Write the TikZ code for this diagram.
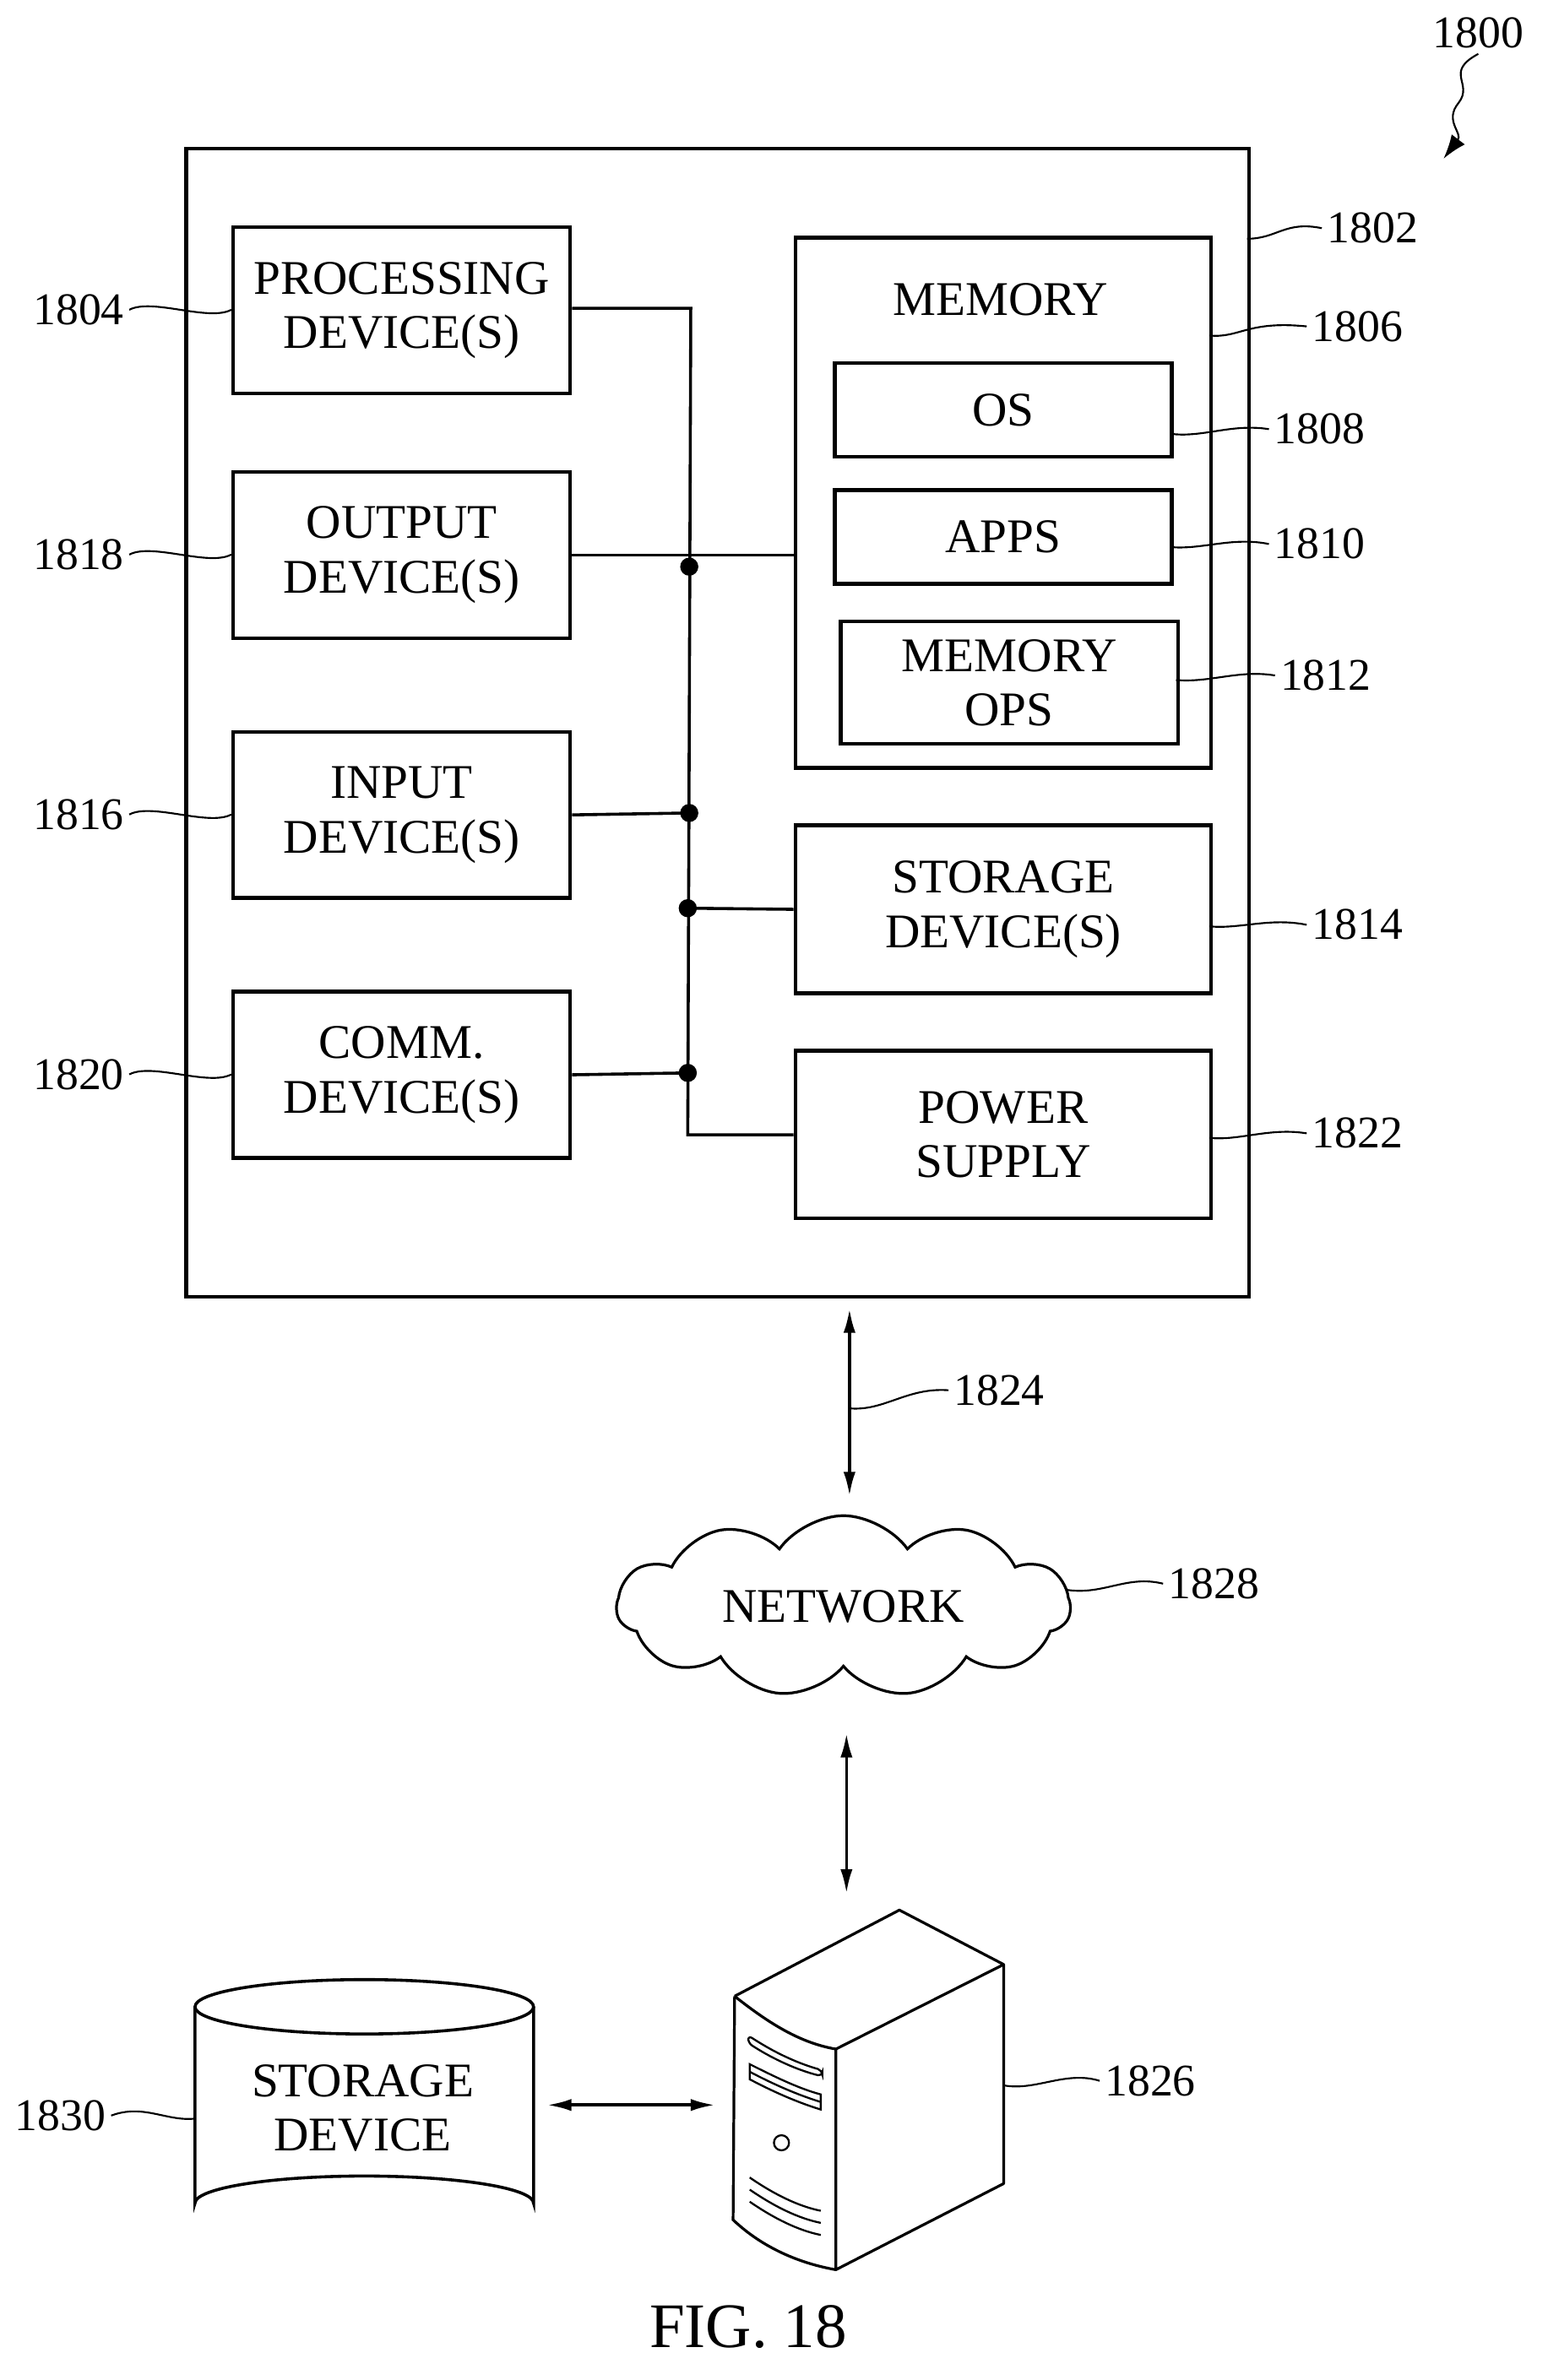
\documentclass[tikz,border=0pt]{standalone}
\usepackage{fontspec}
\setmainfont{Liberation Serif}
\usetikzlibrary{shapes.symbols,shapes.geometric,arrows.meta}
\begin{document}
\begin{tikzpicture}[x=1pt,y=-1pt,
  box/.style={draw,line width=2.5pt,inner sep=0pt,align=center,font=\fontsize{32}{36}\selectfont},
  lab/.style={font=\fontsize{30}{32}\selectfont},
  lead/.style={line width=1.2pt},
  conn/.style={line width=2pt},
  dot/.style={circle,fill=black,inner sep=0pt,minimum size=12pt},
  arr/.style={line width=2pt,{Latex[length=16pt,width=8pt]}-{Latex[length=16pt,width=8pt]}}]
\useasboundingbox (0,0) rectangle (1024,1575);
\fill[white] (0,0) rectangle (1024,1575);
% outer box
\node[draw,line width=2.5pt,minimum width=703pt,minimum height=760pt,anchor=north west] (outer) at (122,97) {};
\node[box,minimum width=223pt,minimum height=110pt,anchor=north west] (proc) at (153,149) {PROCESSING\\DEVICE(S)};
\node[box,minimum width=223pt,minimum height=110pt,anchor=north west] (out) at (153,311) {OUTPUT\\DEVICE(S)};
\node[box,minimum width=223pt,minimum height=110pt,anchor=north west] (in) at (153,483) {INPUT\\DEVICE(S)};
\node[box,minimum width=223pt,minimum height=110pt,anchor=north west] (comm) at (153,655) {COMM.\\DEVICE(S)};
\node[box,minimum width=275pt,minimum height=351pt,anchor=north west] (mem) at (525,156) {};
\node[font=\fontsize{32}{36}\selectfont] (memt) at (662,198) {MEMORY};
\node[box,minimum width=223pt,minimum height=62pt,anchor=north west] (os) at (551,239) {OS};
\node[box,minimum width=223pt,minimum height=62pt,anchor=north west] (apps) at (551,323) {APPS};
\node[box,minimum width=223pt,minimum height=81pt,anchor=north west] (mops) at (555,410) {MEMORY\\OPS};
\node[box,minimum width=275pt,minimum height=111pt,anchor=north west] (stor) at (525,545) {STORAGE\\DEVICE(S)};
\node[box,minimum width=275pt,minimum height=111pt,anchor=north west] (pow) at (525,694) {POWER\\SUPPLY};
% bus
\coordinate (btop) at (457,204);
\coordinate (bbot) at (455,751);
\draw[conn] (proc.east |- btop) -- (btop) -- (bbot) -- (pow.west |- bbot);
\draw[conn] (out.east) -- (mem.west |- out.east);
\draw[conn] (in.east) -- (456,538);
\draw[conn] (455,601) -- (stor.west);
\draw[conn] (comm.east) -- (455,710);
\node[dot] (d1) at (456,375) {};
\node[dot] (d2) at (456,538) {};
\node[dot] (d3) at (455,601) {};
\node[dot] (d4) at (455,710) {};
% labels left
\node[lab] (l1804) at (52,205) {1804};
\node[lab] (l1818) at (52,367) {1818};
\node[lab] (l1816) at (52,539) {1816};
\node[lab] (l1820) at (52,711) {1820};
\foreach \n/\b/\y in {l1804/proc/205,l1818/out/367,l1816/in/539,l1820/comm/711}
  \draw[lead] (\n.east) .. controls +(15,-8) and +(-15,8) .. (\b.west |- 0,\y);
% labels right
\node[lab] (l1802) at (908,151) {1802};
\node[lab] (l1806) at (898,216) {1806};
\node[lab] (l1808) at (873,284) {1808};
\node[lab] (l1810) at (873,360) {1810};
\node[lab] (l1812) at (877,447) {1812};
\node[lab] (l1814) at (898,612) {1814};
\node[lab] (l1822) at (898,750) {1822};
\draw[lead] (825,158) .. controls (845,158) and (850,146) .. (l1802.west);
\draw[lead] (800,222) .. controls (820,224) and (825,212) .. (l1806.west);
\draw[lead] (774,287) .. controls (795,290) and (815,280) .. (l1808.west);
\draw[lead] (774,362) .. controls (795,364) and (815,355) .. (l1810.west);
\draw[lead] (778,450) .. controls (800,452) and (820,443) .. (l1812.west);
\draw[lead] (800,613) .. controls (820,615) and (840,607) .. (l1814.west);
\draw[lead] (800,753) .. controls (820,755) and (840,746) .. (l1822.west);
% 1800
\node[lab] (l1800) at (978,22) {1800};
\coordinate (a1800) at (955,105);
\draw[lead,-{Latex[length=16pt,width=11pt]}] (l1800.south) .. controls (955,48) and (975,55) .. (965,68) .. controls (955,80) and (968,88) .. (a1800);
% network
\draw[arr] (562,866) -- (562,990);
\node[lab] (l1824) at (661,920) {1824};
\draw[lead] (562,932) .. controls (585,934) and (600,918) .. (l1824.west);
\node[cloud,draw,line width=1.8pt,cloud puffs=11,cloud puff arc=110,aspect=2.6,minimum width=300pt,minimum height=120pt,inner sep=0pt,font=\fontsize{32}{36}\selectfont] (net) at (558,1063) {NETWORK};
\node[lab] (l1828) at (803,1048) {1828};
\draw[lead] (705,1052) .. controls (730,1056) and (745,1042) .. (l1828.west);
\draw[arr] (560,1147) -- (560,1253);
% server
\coordinate (s1) at (595,1264);
\coordinate (s2) at (486,1321);
\coordinate (s3) at (553,1356);
\coordinate (s4) at (664,1300);
\coordinate (s5) at (664,1445);
\coordinate (s6) at (553,1502);
\coordinate (s7) at (485,1469);
\draw[line width=1.8pt,line join=round] (s2) -- (s1) -- (s4) -- (s3);
\draw[line width=1.8pt,line join=round] (s2) .. controls (510,1340) and (530,1352) .. (s3) -- (s6) -- (s5) -- (s4);
\draw[line width=1.8pt] (s2) -- (s7) .. controls (505,1488) and (530,1498) .. (s6);
\draw[line width=1.3pt,rounded corners=3pt] (495,1347) .. controls (515,1360) and (530,1366) .. (544,1370) -- (544,1374) .. controls (528,1370) and (512,1363) .. (495,1352) -- cycle;
\draw[line width=1.3pt] (496,1366) -- (496,1376) .. controls (515,1386) and (530,1392) .. (543,1396) -- (543,1386) .. controls (528,1382) and (512,1374) .. (496,1366) -- cycle;
\draw[line width=1.3pt] (496,1371) .. controls (515,1381) and (530,1387) .. (543,1391);
\node[draw,line width=1.3pt,circle,minimum size=10pt,inner sep=0pt] (knob) at (517,1418) {};
\foreach \d in {0,8,16}
  \draw[line width=1.3pt] (496,1441+\d) .. controls (512,1452+\d) and (528,1460+\d) .. (543,1463+\d);
\node[lab] (l1826) at (761,1377) {1826};
\draw[lead] (664,1380) .. controls (685,1384) and (705,1370) .. (l1826.west);
% storage device cylinder
\draw[line width=2pt] (241,1328) ellipse [x radius=112, y radius=18];
\draw[line width=2pt] (129,1328) -- (129,1458) arc [start angle=180, end angle=360, x radius=112, y radius=18] -- (353,1328);
\node[font=\fontsize{32}{36}\selectfont,align=center] (cyl) at (240,1395) {STORAGE\\DEVICE};
\coordinate (sl) at (473,1393);
\draw[arr] (362,1393) -- (sl);
\node[lab] (l1830) at (40,1400) {1830};
\draw[lead] (l1830.east) .. controls (95,1392) and (110,1404) .. (129,1402);
% caption
\node[font=\fontsize{42}{44}\selectfont] (fig) at (495,1540) {FIG. 18};
\end{tikzpicture}
\end{document}
